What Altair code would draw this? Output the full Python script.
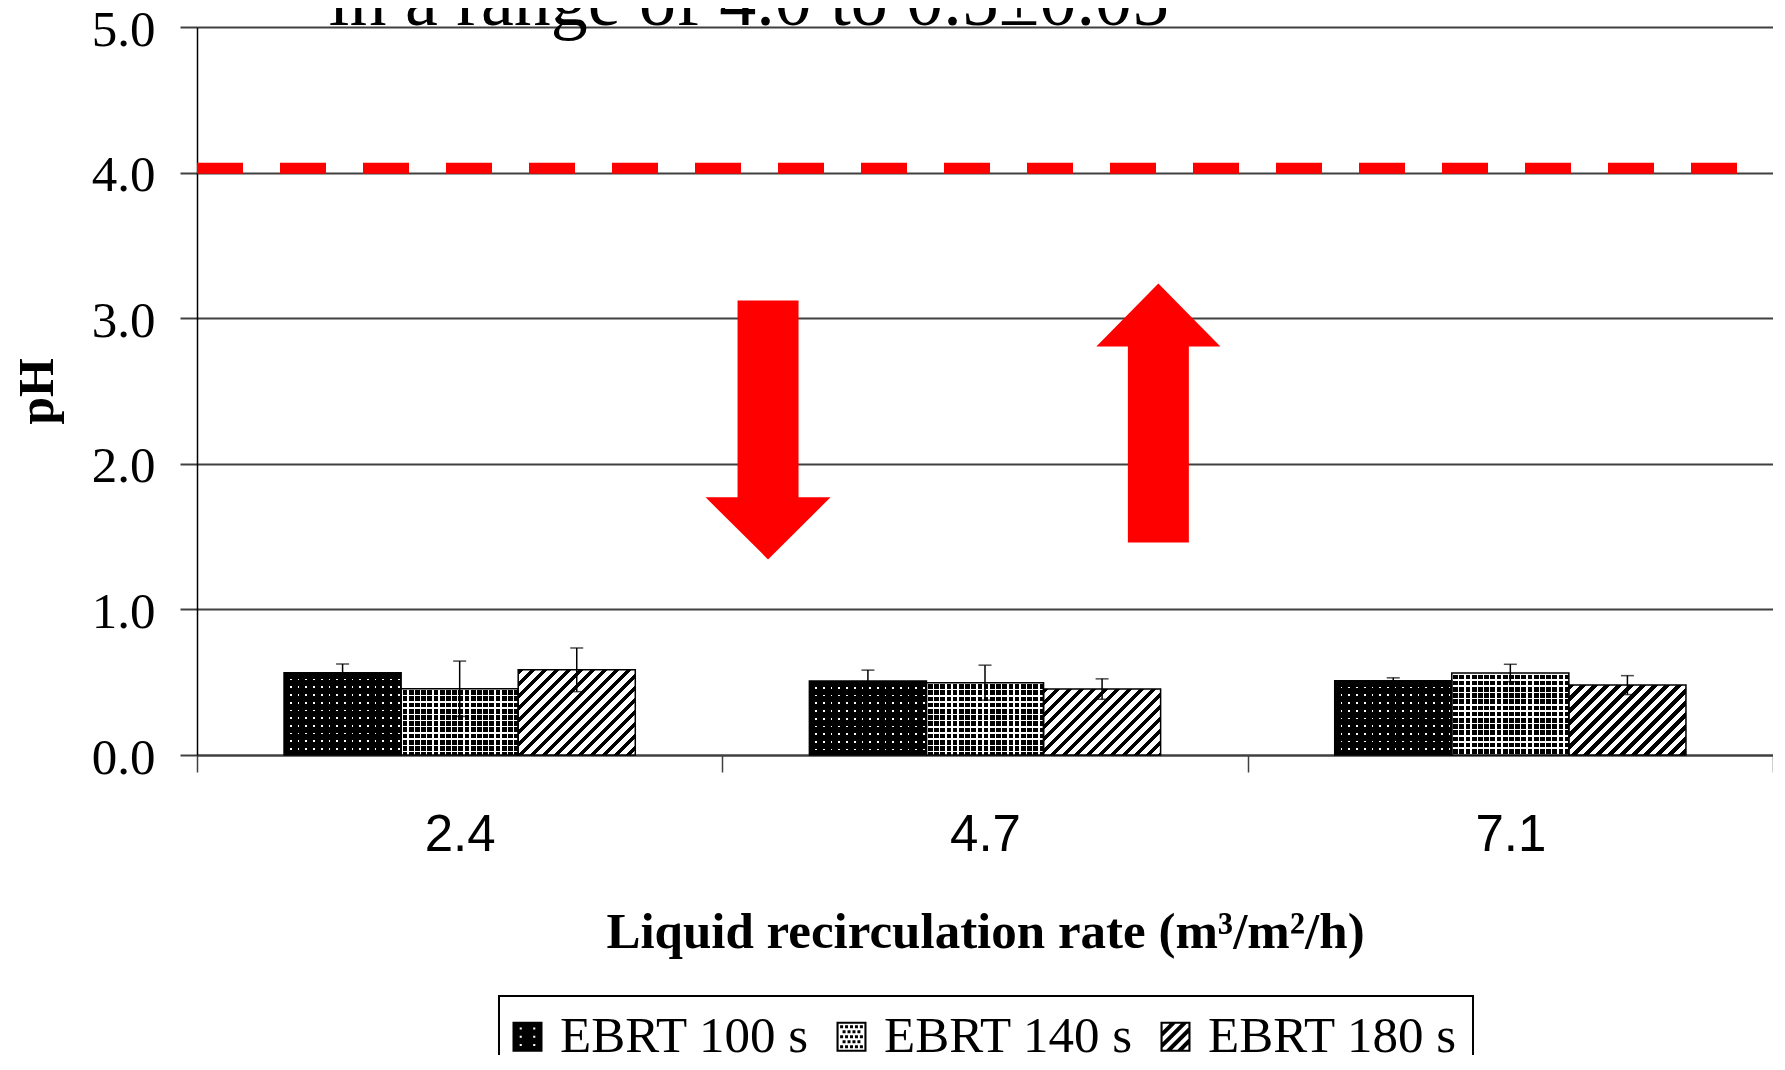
import altair as alt
import pandas as pd

# ---------------- data ----------------
rates = ["2.4", "4.7", "7.1"]
series = ["EBRT 100 s", "EBRT 140 s", "EBRT 180 s"]
ph_100 = [0.565, 0.508, 0.510]
ph_140 = [0.455, 0.497, 0.563]
ph_180 = [0.585, 0.453, 0.480]
err_100 = [0.060, 0.075, 0.020]
err_140 = [0.190, 0.120, 0.060]
err_180 = [0.150, 0.070, 0.065]

threshold = [4.03]
y_ticks = [0, 1, 2, 3, 4, 5]

# arrows (position in category units along the x axis, pH of their centre)
arrow_x = [1.087, 1.830]
arrow_y = [2.233, 2.349]

note_text = "in a range of 4.0 to 0.5\u00b10.05"
note_x = [0.251]
note_y = [5.014]

x_title = "Liquid recirculation rate (m\u00b3/m\u00b2/h)"

# ---------------- layout constants ----------------
PLOT_W = 1576
PLOT_H = 728
PO = 0.7435
BAND = PLOT_W / 3
BAR_W = BAND / (3 + 2 * PO)
PX = PLOT_H / 5.0
CLEAR = "rgba(0,0,0,0)"
DASH = [46, 37]
DASH_OFF = (-(PLOT_W - DASH[0])) % (DASH[0] + DASH[1])

rows = []
rid = 0
vals = [ph_100, ph_140, ph_180]
errs = [err_100, err_140, err_180]
for i, r in enumerate(rates):
    for j, s in enumerate(series):
        rows.append({"id": rid, "rate": r, "series": s, "sidx": j,
                     "value": vals[j][i], "err": errs[j][i]})
        rid += 1
df = pd.DataFrame(rows)

# ---------------- helpers ----------------
yscale = alt.Scale(domain=[0, 5], nice=False, zero=True)

x_axis = alt.Axis(
    title=x_title, labelAngle=0, labelFont="Liberation Sans", labelFontSize=51,
    labelColor="black", labelPadding=38, tickBand="extent", tickSize=17,
    tickColor="#404040", tickWidth=1.5, domainColor="#404040", domainWidth=2,
    titleFont="Liberation Serif", titleFontSize=51, titleFontWeight="bold",
    titleColor="black", titleY=192, titleBaseline="alphabetic", grid=False)

y_axis = alt.Axis(
    title="pH", values=y_ticks, format=".1f", labelFont="Liberation Serif",
    labelFontSize=51, labelColor="black", labelPadding=25, labelOffset=3,
    tickSize=17, tickColor="#404040", tickWidth=2, domainColor="black",
    domainWidth=1.5, gridColor="#404040", gridWidth=2,
    titleFont="Liberation Serif", titleFontSize=50, titleFontWeight="bold",
    titleColor="black", titleX=-145, titleBaseline="alphabetic")


def Y(field):
    # same axis definition everywhere so the shared y axis merges cleanly
    return alt.Y(field, scale=yscale, axis=y_axis)


def enc(main=False, yfield="value:Q"):
    return dict(
        x=alt.X("rate:N", sort=rates,
                scale=alt.Scale(domain=rates, paddingInner=0, paddingOuter=0),
                axis=x_axis if main else None),
        xOffset=alt.XOffset("series:N", sort=series,
                            scale=alt.Scale(domain=series, paddingInner=0,
                                            paddingOuter=PO)),
        y=Y(yfield),
    )


def stripe_stops(length, period, first_len, c1, c2):
    stops = []
    x = 0.0
    while x < length - 1e-9:
        a = x / length
        b = min((x + first_len) / length, 1.0)
        c = min((x + period) / length, 1.0)
        stops += [(a, c1), (b, c1), (b, c2), (c, c2)]
        x += period
    return [{"offset": round(o, 5), "color": col} for o, col in stops]


def grad_rows(H, period, first_len, c1, c2):
    return {"gradient": "linear", "x1": 0, "y1": 0, "x2": 0, "y2": 1,
            "stops": stripe_stops(H, period, first_len, c1, c2)}


def grad_cols(W, period, first_len, c1, c2):
    return {"gradient": "linear", "x1": 0, "y1": 0, "x2": 1, "y2": 0,
            "stops": stripe_stops(W, period, first_len, c1, c2)}


def grad_diag(W, H, period, first_len, c1, c2):
    r = W / H
    s = (r + 1) / (r * r + 1)
    return {"gradient": "linear", "x1": 0, "y1": 0, "x2": round(r * s, 5),
            "y2": round(s, 5),
            "stops": stripe_stops(W + H, period, first_len, c1, c2)}


def poly(pts):
    return "M" + "L".join(f"{x:.3f},{y:.3f}" for x, y in pts) + "Z"


def sq(x0, y0, x1, y1, rev=False):
    pts = [(x0, y0), (x1, y0), (x1, y1), (x0, y1)]
    if rev:
        pts = pts[::-1]
    return poly(pts)


def clip(pts, a, b, c):
    out = []
    n = len(pts)
    for k in range(n):
        P, Q = pts[k], pts[(k + 1) % n]
        fp = a * P[0] + b * P[1] - c
        fq = a * Q[0] + b * Q[1] - c
        if fp <= 0:
            out.append(P)
        if fp * fq < 0:
            t = fp / (fp - fq)
            out.append((P[0] + t * (Q[0] - P[0]), P[1] + t * (Q[1] - P[1])))
    return out


# legend symbols (custom SVG paths in the -1..1 box)
sym100 = sq(-1, -1, 1, 1)
for xx in [-0.45, 0.45]:
    for yy in [-0.55, 0.0, 0.55]:
        sym100 += sq(xx - 0.07, yy - 0.07, xx + 0.07, yy + 0.07, rev=True)

frame = sq(-1, -1, 1, 1) + sq(-0.86, -0.86, 0.86, 0.86, rev=True)
sym140 = frame
for j, yy in enumerate([-0.66, -0.33, 0.0, 0.33, 0.66]):
    off = 0.0 if j % 2 == 0 else 0.165
    for k in range(5):
        xx = -0.66 + off + k * 0.33
        if xx <= 0.72:
            sym140 += sq(xx - 0.1, yy - 0.1, xx + 0.1, yy + 0.1)

sym180 = frame
inner = [(-0.86, -0.86), (0.86, -0.86), (0.86, 0.86), (-0.86, 0.86)]
for c in [-1.25, -0.5, 0.25, 1.0]:
    p = clip(inner, 1, 1, c + 0.38)
    p = clip(p, -1, -1, -c)
    if len(p) >= 3:
        sym180 += poly(p)

sym_paths = [sym100, sym140, sym180]

# arrow shapes (custom SVG paths, drawn as point symbols)
down_path = ("M-0.2355,-1L0.2355,-1L0.2355,0.521L0.4826,0.521L0,1"
             "L-0.4826,0.521L-0.2355,0.521Z")
up_path = ("M0,-1L0.479,-0.5135L0.2355,-0.5135L0.2355,1L-0.2355,1"
           "L-0.2355,-0.5135L-0.479,-0.5135Z")
ARROW_SIZE = 259 ** 2

# ---------------- layers ----------------
layers = []

base_fill = ["white", "black", "white"]
for j in range(3):
    layers.append(
        alt.Chart(df).transform_filter(alt.datum.sidx == j)
        .mark_bar(fill=base_fill[j]).encode(**enc(main=(j == 0))))

rule_df = pd.DataFrame({"thr": threshold})
layers.append(
    alt.Chart(rule_df).mark_rule(color="#ff0000", strokeWidth=11,
                                 strokeDash=DASH, strokeDashOffset=DASH_OFF)
    .encode(y=Y("thr:Q")))

for row in rows:
    H = row["value"] * PX
    fills = []
    if row["sidx"] == 0:
        fills.append(grad_rows(H, 7.7, 6.0, "black", CLEAR))
        fills.append(grad_cols(BAR_W, 7.7, 6.0, "black", CLEAR))
    elif row["sidx"] == 1:
        fills.append(grad_rows(H, 6.2, 1.5, "white", CLEAR))
        fills.append(grad_cols(BAR_W, 6.2, 1.5, "white", CLEAR))
    else:
        fills.append(grad_diag(BAR_W, H, 12.0, 5.2, "black", CLEAR))
    for g in fills:
        layers.append(
            alt.Chart(df).transform_filter(alt.datum.id == row["id"])
            .mark_bar(fill=g).encode(**enc()))

layers.append(
    alt.Chart(df).mark_bar(fillOpacity=0, stroke="black", strokeWidth=1.5)
    .encode(**enc()))

err_base = alt.Chart(df).transform_calculate(
    lo="datum.value - datum.err", hi="datum.value + datum.err")
layers.append(
    err_base.mark_rule(color="black", strokeWidth=1.5)
    .encode(**enc(yfield="lo:Q"), y2="hi:Q"))
layers.append(
    err_base.mark_tick(color="black", size=13, thickness=1.5)
    .encode(**enc(yfield="hi:Q")))
layers.append(
    err_base.mark_tick(color="black", size=13, thickness=1.5)
    .encode(**enc(yfield="lo:Q")))

legend = alt.Legend(
    title=None, orient="none", legendX=302, legendY=969,
    direction="horizontal", symbolSize=900, symbolFillColor="black",
    symbolStrokeWidth=0, symbolOpacity=1, symbolOffset=-12,
    labelFont="Liberation Serif", labelFontSize=51, labelColor="black",
    labelLimit=600, labelOffset=7, columnPadding=26, padding=15,
    strokeColor="black")

layers.append(
    alt.Chart(df).mark_point(filled=True, opacity=0, size=10)
    .encode(**enc(),
            shape=alt.Shape("series:N",
                            scale=alt.Scale(domain=series, range=sym_paths),
                            legend=legend),
            color=alt.value("black")))

# ---------------- annotation layers (own x scale in category units) ----------------
ax_x = alt.X("ax:Q", scale=alt.Scale(domain=[0, 3], nice=False, zero=False),
             axis=None)
down_df = pd.DataFrame({"ax": [arrow_x[0]], "ay": [arrow_y[0]]})
up_df = pd.DataFrame({"ax": [arrow_x[1]], "ay": [arrow_y[1]]})
note_df = pd.DataFrame({"ax": note_x, "ay": note_y, "t": [note_text]})

layers.append(alt.Chart(down_df).mark_point(
    shape=down_path, size=ARROW_SIZE, filled=True, color="#ff0000",
    opacity=1, strokeWidth=0).encode(x=ax_x, y=Y("ay:Q")))
layers.append(alt.Chart(up_df).mark_point(
    shape=up_path, size=ARROW_SIZE, filled=True, color="#ff0000",
    opacity=1, strokeWidth=0).encode(x=ax_x, y=Y("ay:Q")))
layers.append(alt.Chart(note_df).mark_text(
    align="left", baseline="alphabetic", font="Liberation Serif",
    fontSize=74, color="black").encode(x=ax_x, y=Y("ay:Q"), text="t:N"))

chart = (
    alt.layer(*layers)
    .resolve_scale(x="independent")
    .properties(
        width=PLOT_W, height=PLOT_H,
        autosize=alt.AutoSizeParams(type="none"),
        padding={"left": 189, "top": 19, "right": 0, "bottom": 300},
        background="white")
    .configure_view(stroke=None)
    .configure_legend(strokeWidth=2)
)

chart.save("out.html", embed_options={"renderer": "svg", "actions": False})
